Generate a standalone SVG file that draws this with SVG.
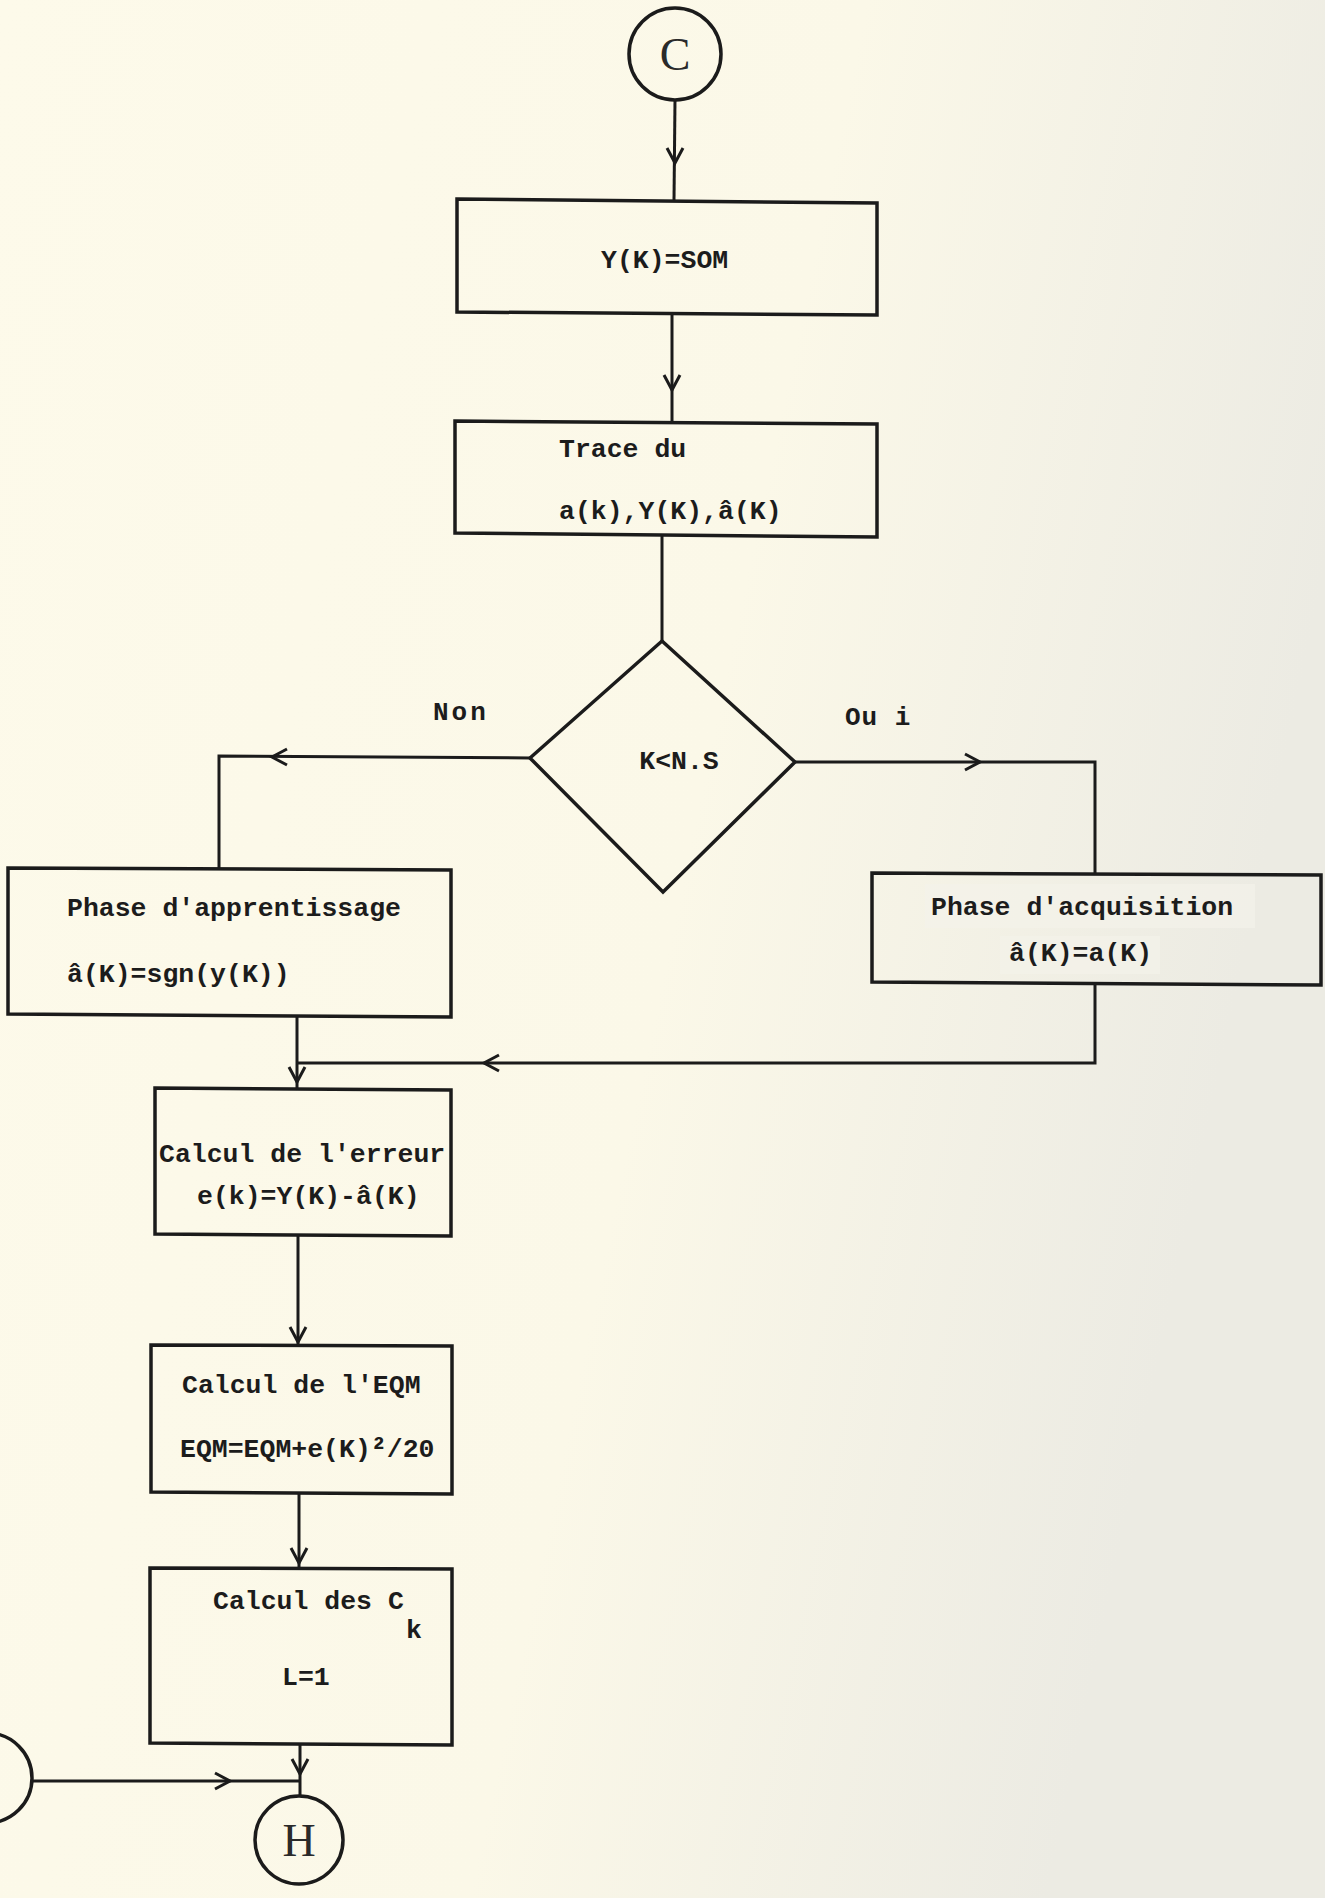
<svg xmlns="http://www.w3.org/2000/svg" xmlns:xlink="http://www.w3.org/1999/xlink" width="1325" height="1898" viewBox="0 0 1325 1898">
  <defs>
    <linearGradient id="paper" x1="0" y1="0" x2="1" y2="0.3">
      <stop offset="0" stop-color="#fdfaea"/>
      <stop offset="0.6" stop-color="#fbf8e8"/>
      <stop offset="1" stop-color="#ecebe3"/>
    </linearGradient>
    <path id="chev" d="M-8,-15 L0,0 L8,-15" fill="none" stroke="#1b1b1b" stroke-width="3" stroke-linejoin="miter"/>
  </defs>
  <style>
    .box { fill: none; stroke: #1b1b1b; stroke-width: 3.5; }
    .circ { fill: none; stroke: #1b1b1b; stroke-width: 3.5; }
    .conn { fill: none; stroke: #1b1b1b; stroke-width: 3; }
    .t { font-family: "Liberation Mono", "DejaVu Sans Mono", monospace; font-size: 26.5px; font-weight: bold; fill: #1c1c1c; }
    .lbl { font-family: "Liberation Mono", "DejaVu Sans Mono", monospace; font-size: 26px; font-weight: bold; fill: #1c1c1c; }
    .cl { font-family: "Liberation Serif", "Times New Roman", serif; font-size: 46px; fill: #2a2a2a; text-anchor: middle; }
  </style>

  <rect x="0" y="0" width="1325" height="1898" fill="url(#paper)"/>

  <g id="connectors">
    <path class="conn" d="M675,100 L674,200"/>
    <use xlink:href="#chev" transform="translate(675,163)"/>
    <path class="conn" d="M672,314 L672,422"/>
    <use xlink:href="#chev" transform="translate(672,390)"/>
    <path class="conn" d="M662,536 L662,641"/>
    <path class="conn" d="M530,758 L219,756 L219,869"/>
    <use xlink:href="#chev" transform="translate(272,757) rotate(90)"/>
    <path class="conn" d="M795,762 L1095,762 L1095,874"/>
    <use xlink:href="#chev" transform="translate(980,762) rotate(-90)"/>
    <path class="conn" d="M297,1016 L297,1089"/>
    <use xlink:href="#chev" transform="translate(297,1082)"/>
    <path class="conn" d="M1095,984 L1095,1063 L297,1063"/>
    <use xlink:href="#chev" transform="translate(484,1063) rotate(90)"/>
    <path class="conn" d="M298,1236 L298,1345"/>
    <use xlink:href="#chev" transform="translate(298,1342)"/>
    <path class="conn" d="M299,1494 L299,1569"/>
    <use xlink:href="#chev" transform="translate(299,1563)"/>
    <path class="conn" d="M300,1744 L300,1796"/>
    <use xlink:href="#chev" transform="translate(300,1774)"/>
    <path class="conn" d="M33,1781 L300,1781"/>
    <use xlink:href="#chev" transform="translate(230,1781) rotate(-90)"/>
  </g>

  <g id="node-C">
    <circle class="circ" cx="675" cy="54" r="46"/>
    <text class="cl" x="675" y="70">C</text>
  </g>

  <g id="node-som">
    <polygon class="box" points="457,199 877,203 877,315 457,312"/>
    <text class="t" x="601" y="268">Y(K)=SOM</text>
  </g>

  <g id="node-trace">
    <polygon class="box" points="455,421 877,424 877,537 455,533"/>
    <text class="t" x="559" y="457">Trace du</text>
    <text class="t" x="559" y="519">a(k),Y(K),â(K)</text>
  </g>

  <g id="node-decision">
    <polygon class="box" points="662,641 795,762 663,892 530,758"/>
    <text class="t" x="679" y="769" text-anchor="middle">K&lt;N.S</text>
  </g>

  <text class="lbl" x="433" y="720" letter-spacing="3">Non</text>
  <text class="lbl" x="845" y="725" letter-spacing="1">Ou i</text>

  <g id="node-apprentissage">
    <polygon class="box" points="8,868 451,870 451,1017 8,1014"/>
    <text class="t" x="67" y="916">Phase d'apprentissage</text>
    <text class="t" x="67" y="982">â(K)=sgn(y(K))</text>
  </g>

  <g id="node-acquisition">
    <rect x="925" y="884" width="330" height="44" fill="#f4f2ea" opacity="0.7"/>
    <rect x="1000" y="936" width="160" height="38" fill="#f4f2ea" opacity="0.7"/>
    <polygon class="box" points="872,873 1321,875 1321,985 872,982"/>
    <text class="t" x="931" y="915">Phase d'acquisition</text>
    <text class="t" x="1009" y="961">â(K)=a(K)</text>
  </g>

  <g id="node-erreur">
    <polygon class="box" points="155,1088 451,1090 451,1236 155,1234"/>
    <text class="t" x="159" y="1162">Calcul de l'erreur</text>
    <text class="t" x="197" y="1204">e(k)=Y(K)-â(K)</text>
  </g>

  <g id="node-eqm">
    <polygon class="box" points="151,1345 452,1346 452,1494 151,1492"/>
    <text class="t" x="182" y="1393">Calcul de l'EQM</text>
    <text class="t" x="180" y="1457">EQM=EQM+e(K)²/20</text>
  </g>

  <g id="node-ck">
    <polygon class="box" points="150,1568 452,1569 452,1745 150,1743"/>
    <text class="t" x="213" y="1609">Calcul des C</text>
    <text class="t" x="406" y="1638">k</text>
    <text class="t" x="282" y="1685">L=1</text>
  </g>

  <g id="node-left-connector">
    <circle class="circ" cx="-13" cy="1778" r="45"/>
  </g>

  <g id="node-H">
    <circle class="circ" cx="299" cy="1840" r="44"/>
    <text class="cl" x="299" y="1856">H</text>
  </g>
</svg>
